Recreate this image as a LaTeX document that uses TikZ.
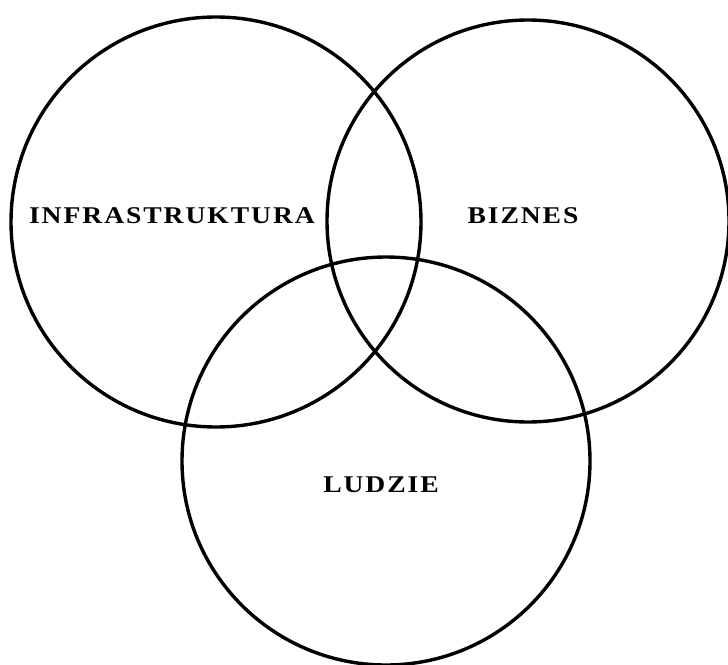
\documentclass[tikz,border=0pt]{standalone}
\usepackage{fontspec}
\setmainfont{Liberation Serif}
\newfontfamily\spacedfont[LetterSpace=7]{Liberation Serif}
\usepackage{tikz}
\usetikzlibrary{positioning}

\newcommand{\widetext}[1]{\scalebox{1.15}[1]{#1}}

\tikzset{
  ring/.style={line width=3.4pt},
  lbl/.style={font=\spacedfont\fontsize{24}{26}\selectfont\bfseries}
}

\begin{document}
\begin{tikzpicture}[x=1pt,y=-1pt]
\useasboundingbox (0,0) rectangle (728,664);
\draw[ring] (216,222) circle (205);
\draw[ring] (528,221) circle (201);
\draw[ring] (386,461) circle (204);

\node[lbl] (infra) at (172,216) {\widetext{INFRASTRUKTURA}};
\node[lbl] (biz) at (523,216) {\widetext{BIZNES}};
\node[lbl] (ludzie) at (381,485) {\widetext{LUDZIE}};
\end{tikzpicture}
\end{document}
